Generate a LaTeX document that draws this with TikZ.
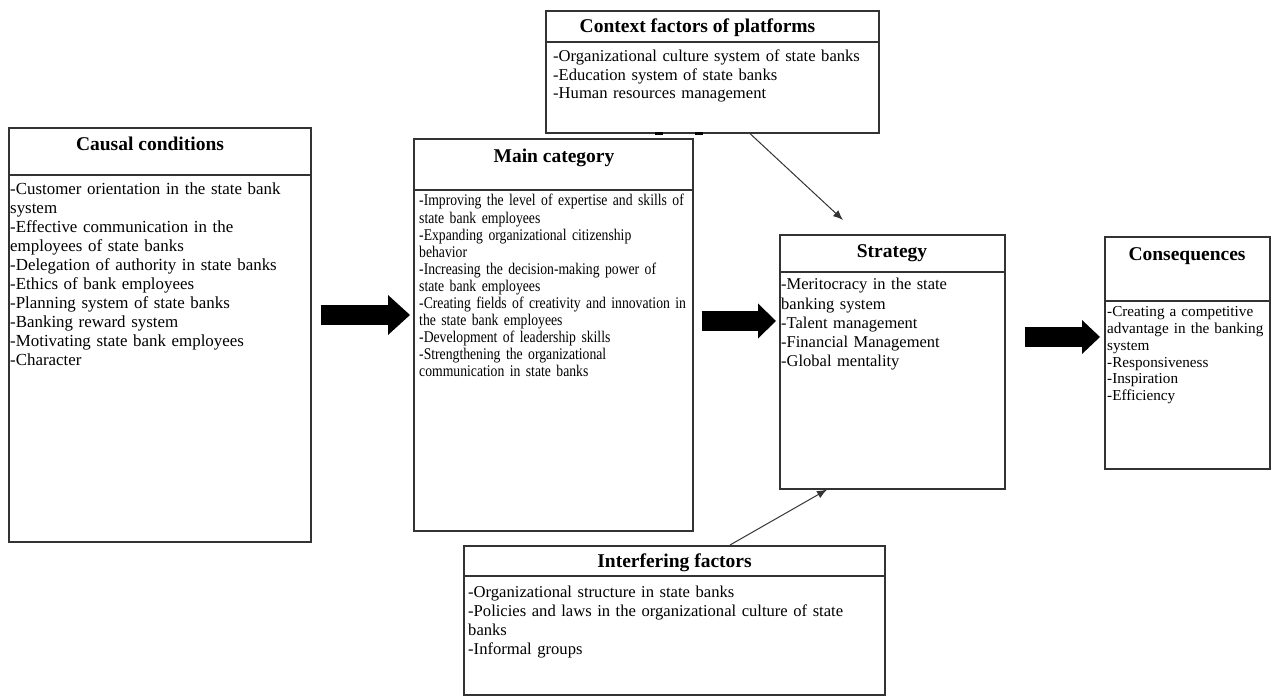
\documentclass[tikz,border=0pt]{standalone}
\usepackage{fontspec}
\setmainfont{Liberation Serif}
\newfontfamily\condfont[FakeStretch=0.84]{Liberation Serif}
\usetikzlibrary{arrows.meta,calc}
\tikzset{
  box/.style={draw=black!80, line width=1.6pt, rectangle, inner sep=0pt, anchor=north west, fill=white},
  divider/.style={draw=black!80, line width=1.6pt},
  title/.style={anchor=base, inner sep=0pt, font={\fontsize{19.5}{22}\selectfont\bfseries}},
  body/.style={anchor=base west, inner sep=0pt, text width=440pt, align=left},
  fatarrow/.style={draw=black, line width=20pt},
  thinarrow/.style={draw=black!80, line width=1pt, -{Latex[length=10pt,width=8pt]}},
  blot/.style={draw=black, line width=2.5pt}
}
\begin{document}
\begin{tikzpicture}[x=1pt,y=1pt]
\useasboundingbox[fill=white] (0,0) rectangle (1272,696);

% boxes
\node[box, minimum width=333, minimum height=122] (ctx) at (545,686) {};
\node[box, minimum width=302, minimum height=414] (causal) at (8,569) {};
\node[box, minimum width=279, minimum height=392] (main) at (413,558) {};
\node[box, minimum width=225, minimum height=254] (strat) at (779,462) {};
\node[box, minimum width=165, minimum height=232] (cons) at (1104,460) {};
\node[box, minimum width=421, minimum height=149] (inter) at (463,151) {};

% dividers
\draw[divider] ($(ctx.north west)+(0,-32)$) -- ($(ctx.north east)+(0,-32)$);
\draw[divider] ($(causal.north west)+(0,-48)$) -- ($(causal.north east)+(0,-48)$);
\draw[divider] ($(main.north west)+(0,-52)$) -- ($(main.north east)+(0,-52)$);
\draw[divider] ($(strat.north west)+(0,-38)$) -- ($(strat.north east)+(0,-38)$);
\draw[divider] ($(cons.north west)+(0,-65)$) -- ($(cons.north east)+(0,-65)$);
\draw[divider] ($(inter.north west)+(0,-31)$) -- ($(inter.north east)+(0,-31)$);

% small marks on the bottom edge of the context box
\draw[blot] ($(ctx.south west)+(110,0)$) -- ++(8,0);
\draw[blot] ($(ctx.south west)+(150,0)$) -- ++(8,0);

% titles
\node[title] (ctxT) at (697.5,663) {Context factors of platforms};
\node[title] (causalT) at (150,545) {Causal conditions};
\node[title] (mainT) at (554,533) {Main category};
\node[title] (stratT) at (892,438) {Strategy};
\node[title] (consT) at (1187,435) {Consequences};
\node[title] (interT) at (674.5,128) {Interfering factors};

% body texts
\node[body, font={\fontsize{16.6}{18.5}\selectfont}] (ctxB) at (553,634)
 {-Organizational culture system of state banks\\
  -Education system of state banks\\
  -Human resources management};
\node[body, font={\fontsize{16.9}{19}\selectfont}] (causalB) at (10,501)
 {-Customer orientation in the state bank\\
  system\\
  -Effective communication in the\\
  employees of state banks\\
  -Delegation of authority in state banks\\
  -Ethics of bank employees\\
  -Planning system of state banks\\
  -Banking reward system\\
  -Motivating state bank employees\\
  -Character};
\node[body, font={\condfont\fontsize{16.3}{17.1}\selectfont}] (mainB) at (419,490)
 {-Improving the level of expertise and skills of\\
  state bank employees\\
  -Expanding organizational citizenship\\
  behavior\\
  -Increasing the decision-making power of\\
  state bank employees\\
  -Creating fields of creativity and innovation in\\
  the state bank employees\\
  -Development of leadership skills\\
  -Strengthening the organizational\\
  communication in state banks};
\node[body, font={\fontsize{16.5}{19.2}\selectfont}] (stratB) at (781,406)
 {-Meritocracy in the state\\
  banking system\\
  -Talent management\\
  -Financial Management\\
  -Global mentality};
\node[body, font={\fontsize{15.2}{16.7}\selectfont}] (consB) at (1107,379)
 {-Creating a competitive\\
  advantage in the banking\\
  system\\
  -Responsiveness\\
  -Inspiration\\
  -Efficiency};
\node[body, font={\fontsize{16.6}{18.9}\selectfont}] (interB) at (468,98)
 {-Organizational structure in state banks\\
  -Policies and laws in the organizational culture of state\\
  banks\\
  -Informal groups};

% fat arrows
\draw[fatarrow, -{Triangle[length=22pt,width=40pt,line width=0pt]}, shorten <=9pt, shorten >=3pt]
  ($(causal.north east)+(0,-188)$) -- ($(main.north west)+(0,-177)$);
\draw[fatarrow, -{Triangle[length=18pt,width=35pt,line width=0pt]}, shorten <=8pt, shorten >=3pt]
  ($(main.north east)+(0,-183)$) -- ($(strat.north west)+(0,-87)$);
\draw[fatarrow, -{Triangle[length=18pt,width=34pt,line width=0pt]}, shorten <=19pt, shorten >=4pt]
  ($(strat.north east)+(0,-103)$) -- ($(cons.north west)+(0,-101)$);

% thin arrows
\coordinate (t1) at (843,476);
\draw[thinarrow] ($(ctx.south west)+(205,0)$) -- (t1);
\draw[thinarrow] ($(inter.north west)+(267,0)$) -- ($(strat.south west)+(48,0)$);
\end{tikzpicture}
\end{document}
